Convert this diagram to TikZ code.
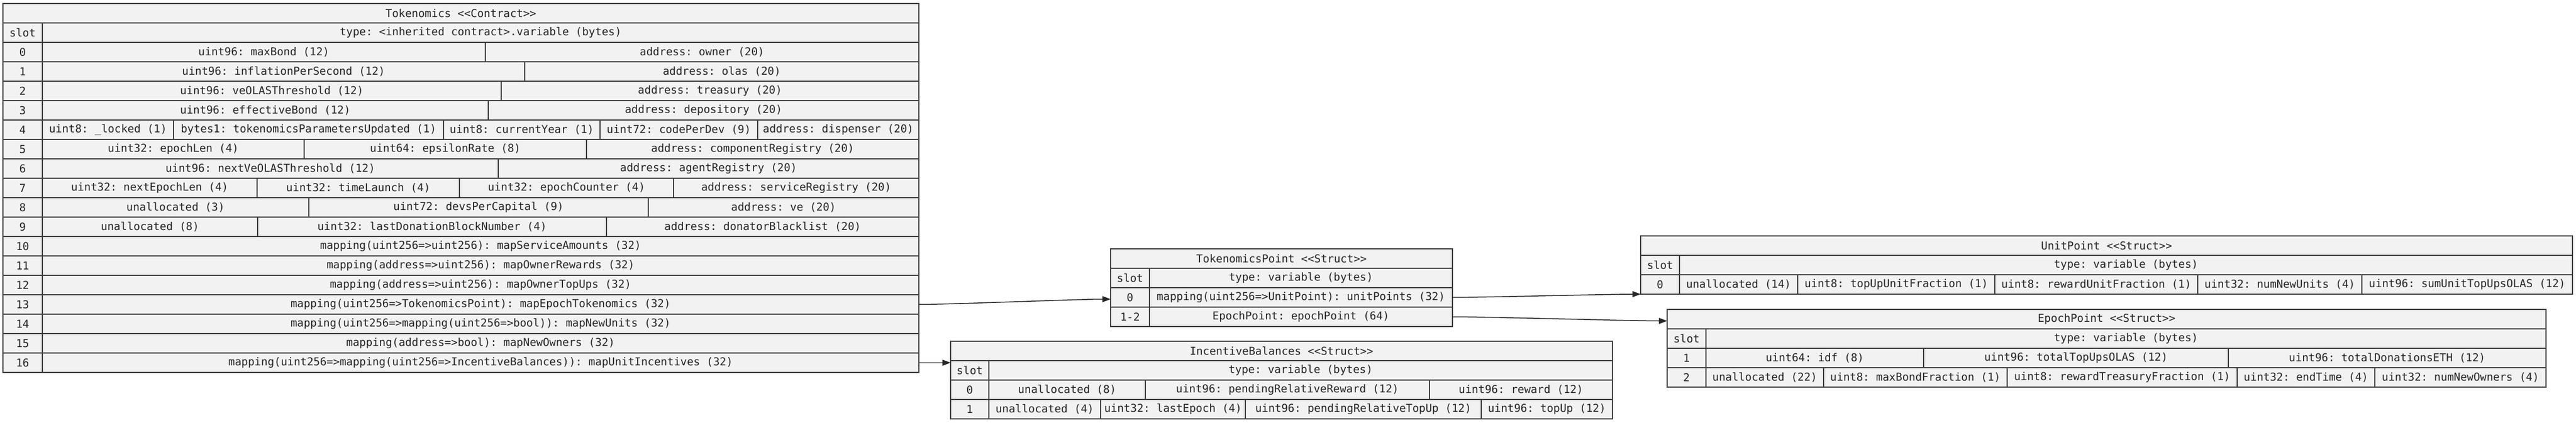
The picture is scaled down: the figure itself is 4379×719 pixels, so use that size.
\documentclass[tikz,border=0pt]{standalone}
\usepackage{fontspec}
\setmonofont{DejaVu Sans Mono}
\usetikzlibrary{arrows.meta}
\tikzstyle{cell}=[draw=black!75,fill=black!5,rectangle,line width=1.5pt,minimum height=33pt,inner sep=0pt,outer sep=0pt,anchor=west]
\tikzstyle{every node}=[font=\ttfamily\fontsize{18.5}{22}\selectfont,text=black!85]
\tikzstyle{link}=[->,line width=1.5pt,draw=black!85]
\newcommand{\fld}[5]{\node[cell,minimum width={(#3-#2)*1pt}] (#1) at (#2,#4) {#5};}

\begin{document}
\begin{tikzpicture}[x=1pt,y=-1pt,>={Triangle[length=14pt,width=10pt]}]
  \useasboundingbox (0,0) rectangle (4379,719);
  % Tokenomics contract
  \fld{tk}{5}{1562}{22.5}{Tokenomics <<Contract>>}
  \fld{tkslot}{5}{72}{55.5}{slot}
  \fld{tktype}{72}{1562}{55.5}{type: <inherited contract>.variable (bytes)}
  \foreach \i in {0,...,16} \fld{tks\i}{5}{72}{88.5+33*\i}{\i};
  \fld{tk0a}{72}{825}{88.5}{uint96: maxBond (12)}
  \fld{tk0b}{825}{1562}{88.5}{address: owner (20)}
  \fld{tk1a}{72}{892}{121.5}{uint96: inflationPerSecond (12)}
  \fld{tk1b}{892}{1562}{121.5}{address: olas (20)}
  \fld{tk2a}{72}{852}{154.5}{uint96: veOLASThreshold (12)}
  \fld{tk2b}{852}{1562}{154.5}{address: treasury (20)}
  \fld{tk3a}{72}{830}{187.5}{uint96: effectiveBond (12)}
  \fld{tk3b}{830}{1562}{187.5}{address: depository (20)}
  \fld{tk4a}{72}{295}{220.5}{uint8: \_locked (1)}
  \fld{tk4b}{295}{754}{220.5}{bytes1: tokenomicsParametersUpdated (1)}
  \fld{tk4c}{754}{1020}{220.5}{uint8: currentYear (1)}
  \fld{tk4d}{1020}{1288}{220.5}{uint72: codePerDev (9)}
  \fld{tk4e}{1288}{1562}{220.5}{address: dispenser (20)}
  \fld{tk5a}{72}{517}{253.5}{uint32: epochLen (4)}
  \fld{tk5b}{517}{997}{253.5}{uint64: epsilonRate (8)}
  \fld{tk5c}{997}{1562}{253.5}{address: componentRegistry (20)}
  \fld{tk6a}{72}{847}{286.5}{uint96: nextVeOLASThreshold (12)}
  \fld{tk6b}{847}{1562}{286.5}{address: agentRegistry (20)}
  \fld{tk7a}{72}{437}{319.5}{uint32: nextEpochLen (4)}
  \fld{tk7b}{437}{781}{319.5}{uint32: timeLaunch (4)}
  \fld{tk7c}{781}{1145}{319.5}{uint32: epochCounter (4)}
  \fld{tk7d}{1145}{1562}{319.5}{address: serviceRegistry (20)}
  \fld{tk8a}{72}{525}{352.5}{unallocated (3)}
  \fld{tk8b}{525}{1102}{352.5}{uint72: devsPerCapital (9)}
  \fld{tk8c}{1102}{1562}{352.5}{address: ve (20)}
  \fld{tk9a}{72}{438}{385.5}{unallocated (8)}
  \fld{tk9b}{438}{1031}{385.5}{uint32: lastDonationBlockNumber (4)}
  \fld{tk9c}{1031}{1562}{385.5}{address: donatorBlacklist (20)}
  \foreach \i/\t in {10/{mapping(uint256=>uint256): mapServiceAmounts (32)},
                     11/{mapping(address=>uint256): mapOwnerRewards (32)},
                     12/{mapping(address=>uint256): mapOwnerTopUps (32)},
                     13/{mapping(uint256=>TokenomicsPoint): mapEpochTokenomics (32)},
                     14/{mapping(uint256=>mapping(uint256=>bool)): mapNewUnits (32)},
                     15/{mapping(address=>bool): mapNewOwners (32)},
                     16/{mapping(uint256=>mapping(uint256=>IncentiveBalances)): mapUnitIncentives (32)}}
    \fld{tk\i}{72}{1562}{88.5+33*\i}{\t};
  % TokenomicsPoint struct
  \fld{tp}{1888}{2469}{439.5}{TokenomicsPoint <<Struct>>}
  \fld{tpslot}{1888}{1954}{472.5}{slot}
  \fld{tptype}{1954}{2469}{472.5}{type: variable (bytes)}
  \fld{tp0s}{1888}{1954}{505.5}{0}
  \fld{tp0}{1954}{2469}{505.5}{mapping(uint256=>UnitPoint): unitPoints (32)}
  \fld{tp12s}{1888}{1954}{538.5}{1-2}
  \fld{tp12}{1954}{2469}{538.5}{EpochPoint: epochPoint (64)}
  % IncentiveBalances struct
  \fld{ib}{1616}{2741}{596.5}{IncentiveBalances <<Struct>>}
  \fld{ibslot}{1616}{1681}{629.5}{slot}
  \fld{ibtype}{1681}{2741}{629.5}{type: variable (bytes)}
  \fld{ib0s}{1616}{1681}{662.5}{0}
  \fld{ib0a}{1681}{1947}{662.5}{unallocated (8)}
  \fld{ib0b}{1947}{2430}{662.5}{uint96: pendingRelativeReward (12)}
  \fld{ib0c}{2430}{2741}{662.5}{uint96: reward (12)}
  \fld{ib1s}{1616}{1681}{695.5}{1}
  \fld{ib1a}{1681}{1871}{695.5}{unallocated (4)}
  \fld{ib1b}{1871}{2117}{695.5}{uint32: lastEpoch (4)}
  \fld{ib1c}{2117}{2518}{695.5}{uint96: pendingRelativeTopUp (12)}
  \fld{ib1d}{2518}{2741}{695.5}{uint96: topUp (12)}
  % UnitPoint struct
  \fld{up}{2789}{4373}{417.5}{UnitPoint <<Struct>>}
  \fld{upslot}{2789}{2855}{450.5}{slot}
  \fld{uptype}{2855}{4373}{450.5}{type: variable (bytes)}
  \fld{up0s}{2789}{2855}{483.5}{0}
  \fld{up0a}{2855}{3056}{483.5}{unallocated (14)}
  \fld{up0b}{3056}{3391}{483.5}{uint8: topUpUnitFraction (1)}
  \fld{up0c}{3391}{3736}{483.5}{uint8: rewardUnitFraction (1)}
  \fld{up0d}{3736}{4015}{483.5}{uint32: numNewUnits (4)}
  \fld{up0e}{4015}{4373}{483.5}{uint96: sumUnitTopUpsOLAS (12)}
  % EpochPoint struct
  \fld{ep}{2834}{4328}{542.5}{EpochPoint <<Struct>>}
  \fld{epslot}{2834}{2900}{575.5}{slot}
  \fld{eptype}{2900}{4328}{575.5}{type: variable (bytes)}
  \fld{ep1s}{2834}{2900}{608.5}{1}
  \fld{ep1a}{2900}{3270}{608.5}{uint64: idf (8)}
  \fld{ep1b}{3270}{3788}{608.5}{uint96: totalTopUpsOLAS (12)}
  \fld{ep1c}{3788}{4328}{608.5}{uint96: totalDonationsETH (12)}
  \fld{ep2s}{2834}{2900}{641.5}{2}
  \fld{ep2a}{2900}{3100}{641.5}{unallocated (22)}
  \fld{ep2b}{3100}{3412}{641.5}{uint8: maxBondFraction (1)}
  \fld{ep2c}{3412}{3803}{641.5}{uint8: rewardTreasuryFraction (1)}
  \fld{ep2d}{3803}{4037}{641.5}{uint32: endTime (4)}
  \fld{ep2e}{4037}{4328}{641.5}{uint32: numNewOwners (4)}
  % links
  \draw[link] (tk13.east) to[out=0,in=180,looseness=0.4] ([yshift=-3pt]tp0s.west);
  \draw[link] (tk16.east) -- (tk16.east -| ibslot.west);
  \draw[link] (tp0.east) to[out=0,in=180,looseness=0.4] (up0s.south west);
  \draw[link] (tp12.east) to[out=0,in=180,looseness=0.4] ([yshift=-3pt]ep.west);
\end{tikzpicture}
\end{document}
